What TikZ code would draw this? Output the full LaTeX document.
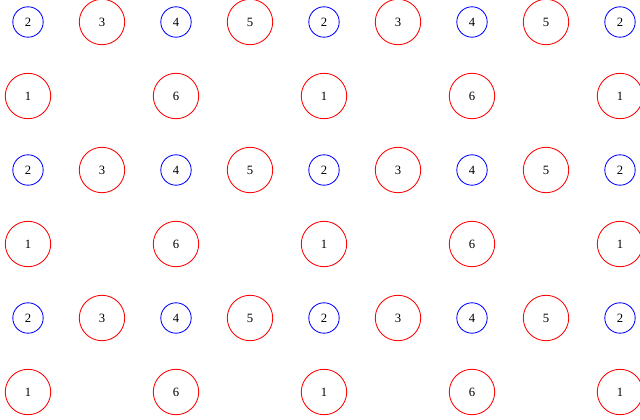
\documentclass[tikz,border=0pt]{standalone}
\usepackage{fontspec}
\setmainfont{Liberation Serif}
\begin{document}
\begin{tikzpicture}[x=0.025cm, y=-0.025cm,
  bluering/.style={draw=blue, circle, line width=0.6pt, minimum size=0.76cm, inner sep=0pt, font=\small},
  redring/.style={draw=red, circle, line width=0.6pt, minimum size=1.135cm, inner sep=0pt, font=\small}]
\useasboundingbox (0,0) rectangle (640,420);
\foreach \r in {0,1,2} {
  % upper row: 2 3 4 5 2 3 4 5 2
  \foreach \c in {0,...,8} {
    \pgfmathtruncatemacro{\lab}{mod(\c,4)+2}
    \ifodd\c
      \node[redring] (t\r-\c) at ({28+74*\c},{22+148*\r}) {\lab};
    \else
      \node[bluering] (t\r-\c) at ({28+74*\c},{22+148*\r}) {\lab};
    \fi
  }
  % lower row: 1 6 1 6 1
  \foreach \c/\lab in {0/1,2/6,4/1,6/6,8/1}
    \node[redring] (b\r-\c) at ({28+74*\c},{96+148*\r}) {\lab};
}
\end{tikzpicture}
\end{document}
